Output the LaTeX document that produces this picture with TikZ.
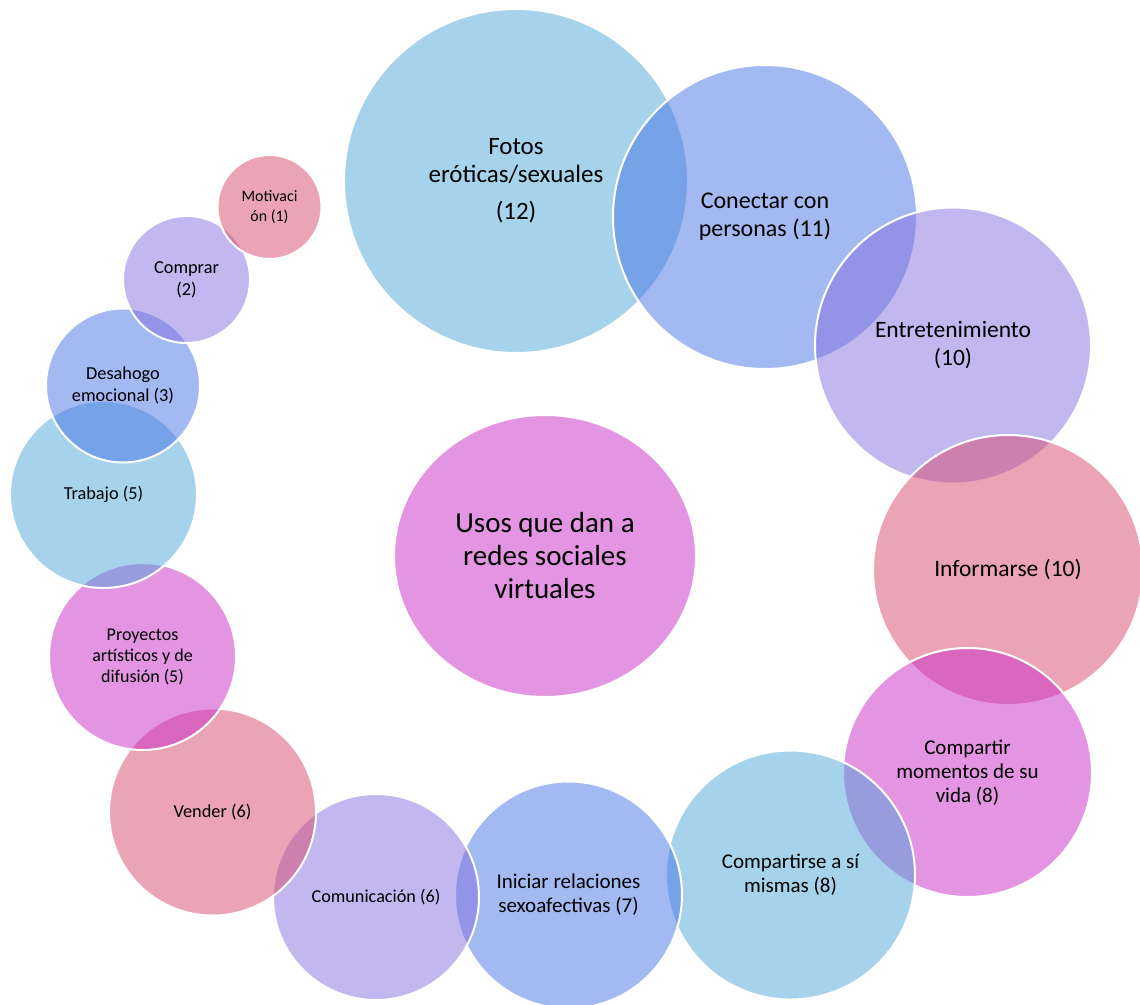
\documentclass[tikz,border=0pt]{standalone}
\usepackage{fontspec}
\setmainfont{Carlito}
\usetikzlibrary{shapes.geometric}

% Fill colours (drawn at half opacity)
\definecolor{cblue}{RGB}{77,165,217}
\definecolor{cperi}{RGB}{71,115,227}
\definecolor{clav}{RGB}{133,113,223}
\definecolor{crose}{RGB}{215,73,109}
\definecolor{cmag}{RGB}{199,43,197}

\tikzset{
  bubble/.style={circle, draw=white, line width=2pt, fill opacity=0.5,
    text opacity=1, text=black, inner sep=0pt, align=center,
    minimum size=#1},
  hub/.style={ellipse, draw=white, line width=2pt, fill=cmag, fill opacity=0.5,
    text opacity=1, text=black, inner sep=0pt, align=center},
  fbig/.style={font=\fontsize{23.5}{28}\selectfont},
  fmid/.style={font=\fontsize{21}{24}\selectfont},
  fsmall/.style={font=\fontsize{18.3}{22}\selectfont},
}

\begin{document}
\begin{tikzpicture}[x=1pt,y=-1pt]
\useasboundingbox (0,0) rectangle (1140,1004);
\clip (0,0) rectangle (1140,1004);

% central topic
\node[hub, minimum width=302pt, minimum height=282pt,
      font=\fontsize{29}{33}\selectfont] (usos) at (545,556)
  {Usos que dan a\\redes sociales\\virtuales};

% ring of uses, drawn clockwise so each one lies over the previous
\node[bubble=344pt, fill=cblue, font=\fontsize{25}{28}\selectfont] (fotos) at (516,181)
  {Fotos\\eróticas/sexuales\\[9pt](12)};
\node[bubble=304pt, fill=cperi, font=\fontsize{24}{28}\selectfont] (conectar) at (765,217)
  {Conectar con\\personas (11)};
\node[bubble=276pt, fill=clav, fbig] (entret) at (953,345.5)
  {Entretenimiento\\(10)};
\node[bubble=270pt, fill=crose, fbig] (informarse) at (1008,570)
  {Informarse (10)};
\node[bubble=249pt, fill=cmag, fmid] (momentos) at (967.5,772.5)
  {Compartir\\momentos de su\\vida (8)};
\node[bubble=249pt, fill=cblue, fmid] (compartirse) at (790.5,875)
  {Compartirse a sí\\mismas (8)};
\node[bubble=227pt, fill=cperi, fmid] (iniciar) at (568.5,895)
  {Iniciar relaciones\\sexoafectivas (7)};
\node[bubble=206pt, fill=clav, font=\fontsize{18.2}{22}\selectfont] (comunicacion) at (376,897)
  {Comunicación (6)};
\node[bubble=207pt, fill=crose, fsmall] (vender) at (212.5,812)
  {Vender (6)};
\node[bubble=187pt, fill=cmag, font=\fontsize{18}{21}\selectfont] (proyectos) at (142.5,656.5)
  {Proyectos\\artísticos y de\\difusión (5)};
\node[bubble=187pt, fill=cblue, fsmall] (trabajo) at (103.5,494.5)
  {Trabajo (5)};
\node[bubble=154pt, fill=cperi, fsmall] (desahogo) at (123,385.5)
  {Desahogo\\emocional (3)};
\node[bubble=127pt, fill=clav, fsmall] (comprar) at (186.5,279.5)
  {Comprar\\(2)};
\node[bubble=104pt, fill=crose, font=\fontsize{15.9}{20}\selectfont] (motivacion) at (269.5,207)
  {Motivaci\\ón (1)};
\end{tikzpicture}
\end{document}
